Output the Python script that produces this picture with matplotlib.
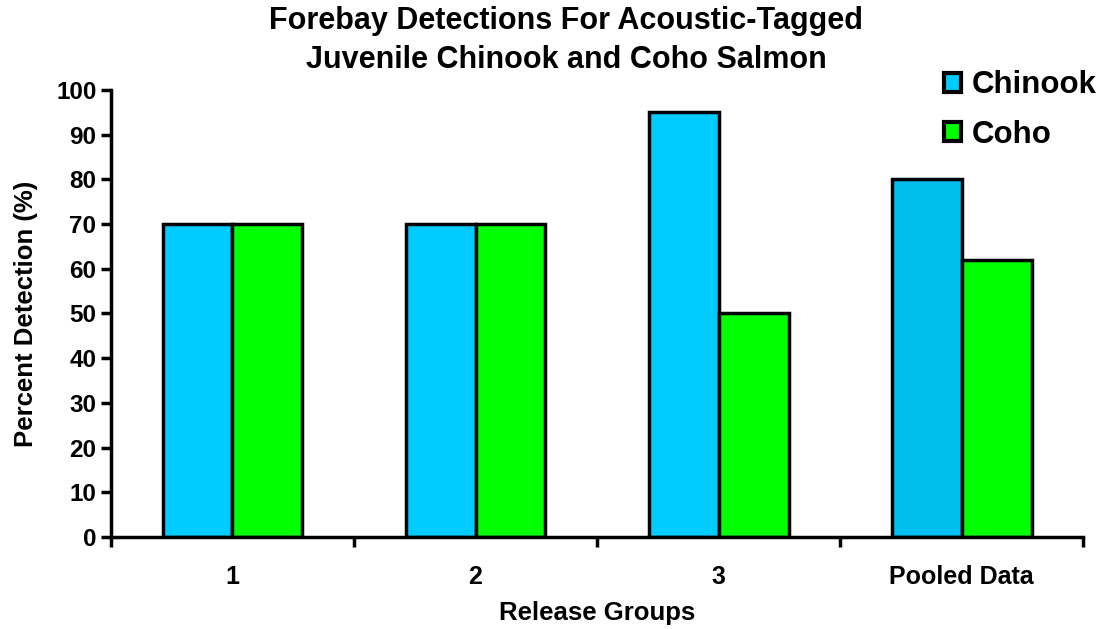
import numpy as np
import matplotlib.pyplot as plt
from matplotlib.patches import Patch

plt.rcParams['font.family'] = ['Liberation Sans', 'DejaVu Sans']
plt.rcParams['font.weight'] = 'bold'

# data
groups = ['1', '2', '3', 'Pooled Data']
chinook = [70, 70, 95, 80]
coho = [70, 70, 50, 62]

fig = plt.figure(figsize=(11.01, 6.29), dpi=100)
ax = fig.add_axes([0.1008, 0.1463, 0.8829, 0.7107])

x = np.arange(len(groups))
w = 0.288
chinook_colors = ['#00CCFF', '#00CCFF', '#00CCFF', '#00BFEF']
ax.bar(x - w / 2, chinook, w, color=chinook_colors, edgecolor='black', linewidth=2.5, label='Chinook')
ax.bar(x + w / 2, coho, w, color='#00FF00', edgecolor='black', linewidth=2.5, label='Coho')

ax.set_xlim(-0.5, len(groups) - 0.5)
ax.set_ylim(0, 100)
ax.set_yticks(range(0, 101, 10))
ax.set_xticks(x)
ax.set_xticklabels(groups, fontsize=18, fontweight='bold')
ax.tick_params(axis='x', length=0, pad=20)
ax.set_xticks(np.arange(-0.5, len(groups)), minor=True)
ax.tick_params(axis='x', which='minor', length=7, width=2.5, direction='out')
ax.tick_params(axis='y', length=7, width=2.5, labelsize=17.5, direction='out')
for lbl in ax.get_yticklabels():
    lbl.set_fontweight('bold')

for side in ['top', 'right']:
    ax.spines[side].set_visible(False)
for side in ['left', 'bottom']:
    ax.spines[side].set_linewidth(2.5)

ax.set_xlabel('Release Groups', fontsize=18.5, fontweight='bold', labelpad=9)
ax.set_ylabel('Percent Detection (%)', fontsize=18.5, fontweight='bold', labelpad=13)

fig.text(0.514, 0.99, 'Forebay Detections For Acoustic-Tagged\nJuvenile Chinook and Coho Salmon',
         ha='center', va='top', fontsize=22, fontweight='bold', linespacing=1.4)

handles = [Patch(facecolor='#00CCFF', edgecolor='black', linewidth=3),
           Patch(facecolor='#00FF00', edgecolor='black', linewidth=3)]
fig.legend(handles, ['Chinook', 'Coho'], loc='upper left', bbox_to_anchor=(0.857, 0.888),
           frameon=False, prop={'size': 22.5, 'weight': 'bold'},
           handlelength=0.55, handleheight=0.55, handletextpad=0.35, labelspacing=0.62,
           borderaxespad=0, borderpad=0)

fig.savefig('out.png', dpi=100)
